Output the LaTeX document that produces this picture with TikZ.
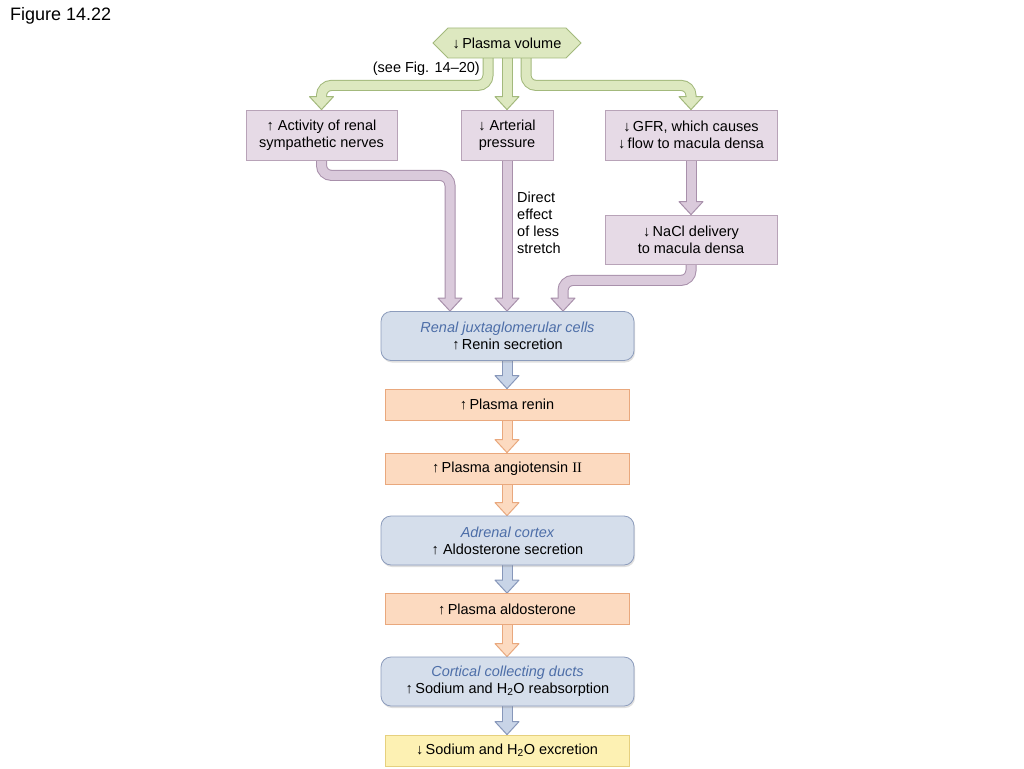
\documentclass[tikz,border=0pt]{standalone}
\usepackage{fontspec}
\setmainfont{Liberation Sans}
\newfontfamily\romfont{Liberation Serif}
\usetikzlibrary{calc,shapes.symbols,shadows}
\pgfdeclarelayer{bg}
\pgfsetlayers{bg,main}
\definecolor{greenfill}{HTML}{DDE8C0}
\definecolor{greenedge}{HTML}{A3B97C}
\definecolor{purplebox}{HTML}{E6DAE6}
\definecolor{purpleboxedge}{HTML}{B8A3B8}
\definecolor{purplefill}{HTML}{DACADB}
\definecolor{purpleedge}{HTML}{A890AB}
\definecolor{bluebox}{HTML}{D5DEEB}
\definecolor{blueboxedge}{HTML}{8C9CBC}
\definecolor{bluefill}{HTML}{C8D4E7}
\definecolor{blueedge}{HTML}{8797BA}
\definecolor{orangefill}{HTML}{FCDAC0}
\definecolor{orangeedge}{HTML}{E9A87D}
\definecolor{yellowfill}{HTML}{FDF1B3}
\definecolor{yellowedge}{HTML}{E6D07E}
\definecolor{italblue}{HTML}{4D6EA8}
\newcommand\fatarrow[3]{%
  \begin{pgfonlayer}{bg}
  \draw[line width=11pt, draw=#1edge, rounded corners=10pt, shorten >=10pt] #2;
  \filldraw[fill=#1fill, draw=#1edge, line width=1pt, line join=round]
    ($(#3)+(-12,-13)$) -- ($(#3)+(12,-13)$) -- (#3) -- cycle;
  \draw[line width=9pt, draw=#1fill, rounded corners=10pt, shorten >=10pt] #2;
  \end{pgfonlayer}}
\tikzset{
  txt/.style={font=\fontsize{14.5}{17}\selectfont, align=center, inner sep=0pt},
  pbox/.style={txt, draw=purpleboxedge, fill=purplebox, line width=0.8pt},
  rbox/.style={txt, draw=blueboxedge, fill=bluebox, line width=0.8pt, rounded corners=10pt,
    minimum width=253pt, minimum height=49pt,
    drop shadow={opacity=0.25, shadow xshift=1pt, shadow yshift=-2pt}},
  obox/.style={txt, draw=orangeedge, fill=orangefill, line width=0.8pt,
    minimum width=244pt, minimum height=31pt},
  ybox/.style={txt, draw=yellowedge, fill=yellowfill, line width=0.8pt,
    minimum width=244pt, minimum height=31pt}
}
\begin{document}
\begin{tikzpicture}[x=1pt,y=-1pt]
\useasboundingbox (0,0) rectangle (1024,768);
\begin{pgfonlayer}{bg}
\fill[white] (0,0) rectangle (1024,768);
\end{pgfonlayer}
\node[anchor=base west, font=\fontsize{18}{20}\selectfont, inner sep=0] (fig) at (10,21) {Figure 14.22};

\node[txt, signal, signal to=west and east, signal pointer angle=90, draw=greenedge, fill=greenfill,
  line width=0.8pt, minimum width=148pt, minimum height=30pt] (pv) at (507,43) {↓\,Plasma volume};
\node[txt, anchor=east] (see) at (480,69) {(see Fig. 14–20)};

\node[pbox, minimum width=151pt, minimum height=50pt] (sym) at (321.5,135) {↑ Activity of renal\\sympathetic nerves};
\node[pbox, minimum width=92pt, minimum height=50pt] (art) at (507,135) {↓ Arterial\\pressure};
\node[pbox, minimum width=172pt, minimum height=50pt] (gfr) at (691,135) {↓\,GFR, which causes\\↓\,flow to macula densa};
\node[pbox, minimum width=172pt, minimum height=49pt] (nacl) at (691,239.5) {↓\,NaCl delivery\\to macula densa};
\node[txt, anchor=north west, align=left] (direct) at (517,192) {Direct\\effect\\of less\\stretch};

\node[rbox] (jg) at (507.5,336) {{\itshape\color{italblue}Renal juxtaglomerular cells}\\↑\,Renin secretion};
\node[obox] (renin) at (507,404.5) {↑\,Plasma renin};
\node[obox] (ang) at (507,468.5) {↑\,Plasma angiotensin {\romfont II}};
\node[rbox] (adr) at (507.5,540.5) {{\itshape\color{italblue}Adrenal cortex}\\↑ Aldosterone secretion};
\node[obox] (ald) at (507,609) {↑\,Plasma aldosterone};
\node[rbox] (ccd) at (507.5,681.5) {{\itshape\color{italblue}Cortical collecting ducts}\\↑\,Sodium and H\textsubscript{2}O reabsorption};
\node[ybox] (exc) at (507,750.5) {↓\,Sodium and H\textsubscript{2}O excretion};

% green arrows
\fatarrow{green}{($(pv.south)+(-19,-4)$) -- ($(pv.south)+(-19,27)$) -| (sym.north)}{sym.north}
\fatarrow{green}{($(pv.south)+(0,-4)$) -- (art.north)}{art.north}
\fatarrow{green}{($(pv.south)+(19,-4)$) -- ($(pv.south)+(19,27)$) -| (gfr.north)}{gfr.north}
% purple arrows
\coordinate (jgl) at ($(jg.north)+(-57.5,0)$);
\coordinate (jgr) at ($(jg.north)+(55.5,0)$);
\fatarrow{purple}{($(sym.south)+(0,-4)$) -- ($(sym.south)+(0,15)$) -| (jgl)}{jgl}
\fatarrow{purple}{($(art.south)+(0,-4)$) -- (art.south |- jg.north)}{art.south |- jg.north}
\fatarrow{purple}{($(gfr.south)+(0,-4)$) -- (nacl.north)}{nacl.north}
\fatarrow{purple}{($(nacl.south)+(0,-4)$) -- ($(nacl.south)+(0,16)$) -| (jgr)}{jgr}
% chain
\fatarrow{blue}{($(jg.south)+(-0.5,-4)$) -- (renin.north)}{renin.north}
\fatarrow{orange}{($(renin.south)+(0,-4)$) -- (ang.north)}{ang.north}
\fatarrow{orange}{($(ang.south)+(0,-4)$) -- (ang.south |- adr.north)}{ang.south |- adr.north}
\fatarrow{blue}{($(adr.south)+(-0.5,-4)$) -- (ald.north)}{ald.north}
\fatarrow{orange}{($(ald.south)+(0,-4)$) -- (ald.south |- ccd.north)}{ald.south |- ccd.north}
\fatarrow{blue}{($(ccd.south)+(-0.5,-4)$) -- (exc.north)}{exc.north}
\end{tikzpicture}
\end{document}
